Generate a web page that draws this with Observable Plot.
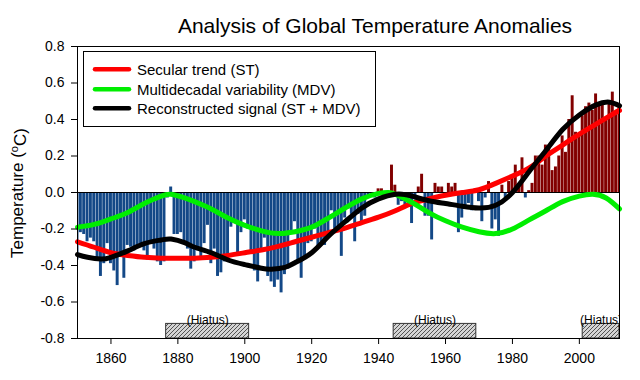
<!DOCTYPE html>
<html>
<head>
<meta charset="utf-8">
<script src="https://cdn.jsdelivr.net/npm/d3@7"></script>
<script src="https://cdn.jsdelivr.net/npm/@observablehq/plot@0.6"></script>
<style>
  body { margin: 0; background: #fff; }
  #chart { width: 640px; height: 380px; }
</style>
</head>
<body>
<div id="chart"></div>
<script>
// ---------- DATA ----------
const title = "Analysis of Global Temperature Anomalies";
const firstYear = 1850;
const anomalies = [
  -0.37, -0.22, -0.23, -0.27, -0.25, -0.27, -0.36, -0.46, -0.39, -0.28, // 1850s
  -0.39, -0.43, -0.51, -0.34, -0.47, -0.29, -0.30, -0.32, -0.29, -0.28, // 1860s
  -0.32, -0.37, -0.28, -0.31, -0.38, -0.40, -0.38, -0.03,  0.03, -0.23, // 1870s
  -0.23, -0.22, -0.27, -0.31, -0.42, -0.38, -0.32, -0.37, -0.28, -0.18, // 1880s
  -0.39, -0.31, -0.46, -0.44, -0.38, -0.36, -0.19, -0.17, -0.35, -0.22, // 1890s
  -0.15, -0.20, -0.33, -0.43, -0.49, -0.31, -0.25, -0.46, -0.49, -0.52, // 1900s
  -0.48, -0.55, -0.45, -0.42, -0.22, -0.16, -0.38, -0.47, -0.35, -0.28, // 1910s
  -0.27, -0.20, -0.30, -0.27, -0.29, -0.24, -0.10, -0.20, -0.22, -0.35, // 1920s
  -0.14, -0.09, -0.12, -0.27, -0.12, -0.17, -0.13, -0.03, -0.01, -0.03, // 1930s
   0.02,  0.02, -0.01, -0.01,  0.15,  0.04, -0.07, -0.05, -0.07, -0.08, // 1940s
  -0.17, -0.04,  0.03,  0.10, -0.13, -0.13, -0.26,  0.05,  0.03,  0.03, // 1950s
   0.00,  0.05,  0.03,  0.05, -0.22, -0.14, -0.08, -0.06, -0.10,  0.02, // 1960s
  -0.05, -0.16, -0.03,  0.06, -0.20, -0.15, -0.24,  0.04, -0.03,  0.06, // 1970s
   0.09,  0.15,  0.04,  0.19, -0.03,  0.01,  0.05,  0.20,  0.20,  0.15, // 1980s
   0.26,  0.25,  0.12,  0.14,  0.20,  0.31,  0.22,  0.40,  0.53,  0.33, // 1990s
   0.31,  0.42,  0.47,  0.49,  0.45,  0.54,  0.49,  0.48,  0.41,  0.49, // 2000s
   0.55,  0.44,  0.47                                                    // 2010s
];
const years = anomalies.map((_, i) => firstYear + i);

const trendYears  = [1850, 1855, 1860, 1865, 1870, 1875, 1880, 1885, 1890, 1895, 1900, 1905, 1910, 1915, 1920, 1925, 1930, 1935, 1940, 1945, 1950, 1955, 1960, 1965, 1970, 1975, 1980, 1985, 1990, 1995, 2000, 2005, 2010, 2012];
const trendValues = [-0.27, -0.30, -0.33, -0.345, -0.355, -0.36, -0.36, -0.36, -0.355, -0.345, -0.33, -0.315, -0.295, -0.27, -0.245, -0.22, -0.195, -0.165, -0.135, -0.10, -0.06, -0.035, -0.015, 0.00, 0.015, 0.05, 0.09, 0.135, 0.20, 0.26, 0.32, 0.375, 0.43, 0.45];

const mdvYears  = [1850, 1855, 1860, 1865, 1870, 1875, 1878, 1882, 1885, 1890, 1895, 1900, 1905, 1910, 1915, 1920, 1925, 1930, 1935, 1940, 1943, 1945, 1950, 1955, 1960, 1965, 1970, 1975, 1980, 1985, 1990, 1995, 2000, 2004, 2008, 2012];
const mdvValues = [-0.19, -0.175, -0.145, -0.11, -0.06, -0.02, -0.01, -0.03, -0.05, -0.09, -0.14, -0.18, -0.21, -0.225, -0.215, -0.19, -0.14, -0.085, -0.035, -0.005, 0.0, -0.01, -0.055, -0.11, -0.155, -0.19, -0.215, -0.225, -0.20, -0.15, -0.10, -0.05, -0.02, -0.01, -0.03, -0.09];

const reconYears  = [1850, 1853, 1857, 1860, 1865, 1870, 1875, 1878, 1882, 1885, 1890, 1895, 1900, 1905, 1908, 1912, 1915, 1920, 1925, 1930, 1935, 1940, 1945, 1948, 1950, 1955, 1960, 1965, 1970, 1975, 1980, 1985, 1990, 1995, 2000, 2005, 2009, 2012];
const reconValues = [-0.34, -0.355, -0.365, -0.355, -0.32, -0.28, -0.26, -0.255, -0.275, -0.30, -0.33, -0.37, -0.395, -0.415, -0.42, -0.41, -0.385, -0.33, -0.24, -0.16, -0.085, -0.035, -0.01, -0.012, -0.02, -0.045, -0.06, -0.075, -0.085, -0.07, 0.0, 0.115, 0.23, 0.345, 0.425, 0.48, 0.495, 0.475];

const hiatusStart = [1876.5, 1944.5, 2001];
const hiatusEnd   = [1901.3, 1969.2, 2012];
const hiatusLabel = "(Hiatus)";

const legendLabels = ["Secular trend (ST)", "Multidecadal variability (MDV)", "Reconstructed signal (ST + MDV)"];
const legendColors = ["#ff0000", "#00ee00", "#000000"];

const xTicks = [1860, 1880, 1900, 1920, 1940, 1960, 1980, 2000];
const yTicks = [-0.8, -0.6, -0.4, -0.2, 0.0, 0.2, 0.4, 0.6, 0.8];

// ---------- TABLES ----------
const bars = years.map((year, i) => ({year, value: anomalies[i]}));
const trend = trendYears.map((year, i) => ({year, value: trendValues[i]}));
const mdv = mdvYears.map((year, i) => ({year, value: mdvValues[i]}));
const recon = reconYears.map((year, i) => ({year, value: reconValues[i]}));
const hiatus = hiatusStart.map((start, i) => ({start, end: hiatusEnd[i]}));

const FONT = "'Liberation Sans', Arial, Helvetica, sans-serif";
const BLUE = "#134887", DARKRED = "#820000";

const plot = Plot.plot({
  width: 640,
  height: 380,
  marginLeft: 77,
  marginRight: 21,
  marginTop: 46,
  marginBottom: 42,
  style: {fontFamily: FONT, fontSize: "14px", background: "white", color: "black", overflow: "visible"},
  color: {type: "identity"},
  x: {domain: [1850, 2012], label: null},
  y: {domain: [-0.8, 0.8], label: null},
  marks: [
    Plot.rect(bars, {
      x1: d => d.year - 0.5, x2: d => d.year + 0.5, y1: 0, y2: "value",
      fill: d => (d.value > 0 && d.year >= 1900) ? DARKRED : BLUE,
      insetLeft: 0.2, insetRight: 0.2, clip: true
    }),
    Plot.ruleY([0], {stroke: "black", strokeWidth: 1.2}),
    Plot.rect(hiatus, {x1: "start", x2: "end", y1: -0.8, y2: -0.72, fill: "url(#hatch)", stroke: "#333", strokeWidth: 1, clip: true}),
    Plot.text(hiatus, {x: d => (d.start + d.end) / 2, y: -0.72, text: () => hiatusLabel, lineAnchor: "bottom", dy: 0, fontSize: 12, clip: true}),
    Plot.line(trend, {x: "year", y: "value", stroke: legendColors[0], strokeWidth: 5, curve: "natural"}),
    Plot.line(mdv, {x: "year", y: "value", stroke: legendColors[1], strokeWidth: 5, curve: "natural"}),
    Plot.line(recon, {x: "year", y: "value", stroke: legendColors[2], strokeWidth: 5, curve: "natural"}),
    Plot.frame({stroke: "black", strokeWidth: 1}),
    Plot.axisX({ticks: xTicks, tickFormat: d => String(d), tickSize: 6, tickPadding: 9, fontSize: 14, label: null}),
    Plot.axisY({ticks: yTicks, tickFormat: d => d.toFixed(1), tickSize: 6, tickPadding: 7, fontSize: 14, label: null})
  ]
});

document.getElementById("chart").appendChild(plot);

// hatch pattern for hiatus boxes
const svg = d3.select(plot);
const defs = svg.insert("defs", ":first-child");
const pat = defs.append("pattern")
  .attr("id", "hatch").attr("patternUnits", "userSpaceOnUse")
  .attr("width", 4).attr("height", 4);
pat.append("rect").attr("width", 4).attr("height", 4).attr("fill", "#d4d4d4");
pat.append("path").attr("d", "M-1,1 l2,-2 M0,4 l4,-4 M3,5 l2,-2")
  .attr("stroke", "#444").attr("stroke-width", 0.9);

// title
svg.append("text")
  .attr("x", 375).attr("y", 33)
  .attr("text-anchor", "middle")
  .style("font-family", FONT).style("font-size", "21px")
  .attr("fill", "black")
  .text(title);

// y-axis label with superscript o
const yl = svg.append("text")
  .attr("transform", "translate(23,193) rotate(-90)")
  .attr("text-anchor", "middle")
  .style("font-family", FONT).style("font-size", "17px")
  .attr("fill", "black");
yl.append("tspan").text("Temperature (");
yl.append("tspan").attr("dy", "-0.45em").style("font-size", "11px").text("o");
yl.append("tspan").attr("dy", "0.45em").text("C)");

// legend
const lg = svg.append("g").attr("text-anchor", "start");
lg.append("rect").attr("x", 83.5).attr("y", 51.5).attr("width", 292).attr("height", 75)
  .attr("fill", "white").attr("stroke", "black").attr("stroke-width", 1);
const rowY = [69.3, 89.3, 108.3];
legendLabels.forEach((lab, i) => {
  lg.append("line").attr("x1", 95).attr("x2", 129).attr("y1", rowY[i]).attr("y2", rowY[i])
    .attr("stroke", legendColors[i]).attr("stroke-width", 4.5).attr("stroke-linecap", "round");
  lg.append("text").attr("x", 137).attr("y", rowY[i] + 5.4)
    .attr("text-anchor", "start")
    .style("font-family", FONT).style("font-size", "15px").attr("fill", "black").text(lab);
});
</script>
</body>
</html>
